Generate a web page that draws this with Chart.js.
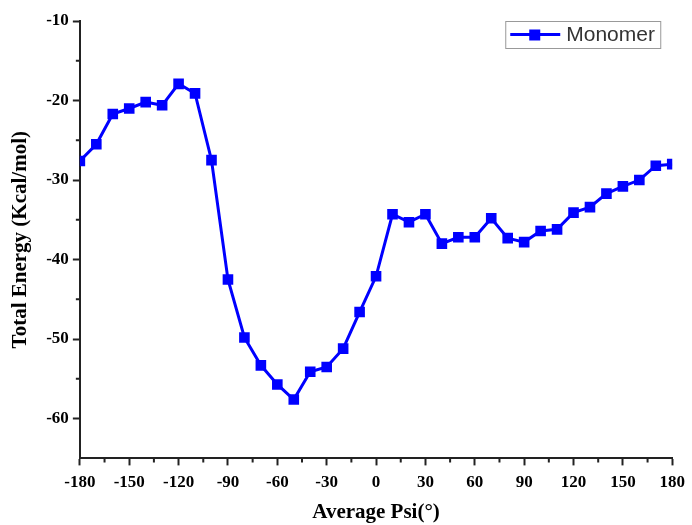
<!DOCTYPE html>
<html>
<head>
<meta charset="utf-8">
<script src="https://cdn.jsdelivr.net/npm/chart.js@4/dist/chart.umd.min.js"></script>
<style>
  html, body { margin: 0; padding: 0; background: #fff; }
  #wrap { width: 692px; height: 525px; }
</style>
</head>
<body>
<div id="wrap"><canvas id="chart" width="692" height="525"></canvas></div>
<script>
const psi = [-180, -170, -160, -150, -140, -130, -120, -110, -100, -90, -80, -70, -60, -50, -40, -30, -20, -10, 0,
  10, 20, 30, 40, 50, 60, 70, 80, 90, 100, 110, 120, 130, 140, 150, 160, 170, 180];
const energy = [-27.6, -25.5, -21.7, -21.0, -20.2, -20.6, -17.9, -19.1, -27.5, -42.5, -49.8, -53.3, -55.7, -57.6, -54.1, -53.5, -51.2, -46.6, -42.1,
  -34.3, -35.3, -34.3, -38.0, -37.2, -37.2, -34.8, -37.3, -37.8, -36.4, -36.2, -34.1, -33.4, -31.7, -30.8, -30.0, -28.2, -28.0];
const seriesName = 'Monomer';
const xTicks = [-180, -150, -120, -90, -60, -30, 0, 30, 60, 90, 120, 150, 180];
const yTicks = [-10, -20, -30, -40, -50, -60];

const blue = '#0000ff';
const axisColor = '#222';
const serif = '"Liberation Serif", "Times New Roman", serif';

// short minor ticks drawn between the labelled ones
const minorTicks = {
  id: 'minorTicks',
  afterDraw(chart) {
    const c = chart.ctx;
    const xs = chart.scales.x, ys = chart.scales.y;
    c.save();
    c.strokeStyle = axisColor;
    c.lineWidth = 2;
    c.beginPath();
    for (let v = xs.min + 15; v < xs.max; v += 30) {
      const px = xs.getPixelForValue(v);
      c.moveTo(px, xs.top);
      c.lineTo(px, xs.top + 4);
    }
    for (let v = -15; v > ys.min; v -= 10) {
      const py = ys.getPixelForValue(v);
      c.moveTo(ys.right, py);
      c.lineTo(ys.right - 4, py);
    }
    c.stroke();
    c.restore();
  }
};

// boxed legend sitting inside the plot, top right
const insideLegend = {
  id: 'insideLegend',
  afterDraw(chart) {
    const c = chart.ctx;
    const a = chart.chartArea;
    const w = 155, h = 27;
    const x = a.right - 12 - w, y = a.top;
    c.save();
    c.fillStyle = '#fff';
    c.fillRect(x, y, w, h);
    c.strokeStyle = '#999';
    c.lineWidth = 1;
    c.strokeRect(x + 0.5, y + 0.5, w, h);
    const my = y + h / 2;
    c.strokeStyle = blue;
    c.lineWidth = 3;
    c.beginPath();
    c.moveTo(x + 5, my);
    c.lineTo(x + 55, my);
    c.stroke();
    c.fillStyle = blue;
    c.fillRect(x + 24, my - 5, 11, 11);
    c.fillStyle = '#333';
    c.font = '21px "Liberation Sans", Arial, sans-serif';
    c.textBaseline = 'middle';
    c.fillText(chart.data.datasets[0].label, x + 61, my + 1);
    c.restore();
  }
};

const ctx = document.getElementById('chart').getContext('2d');

new Chart(ctx, {
  type: 'line',
  data: {
    datasets: [{
      label: seriesName,
      data: psi.map((p, i) => ({ x: p, y: energy[i] })),
      borderColor: blue,
      backgroundColor: blue,
      borderWidth: 3,
      pointStyle: 'rect',
      pointRadius: 7.5,
      pointBackgroundColor: blue,
      pointBorderColor: blue,
      pointBorderWidth: 0,
      tension: 0,
      clip: 0
    }]
  },
  options: {
    responsive: false,
    animation: false,
    layout: { padding: { top: 21, right: 9, left: 0, bottom: 0 } },
    plugins: {
      legend: { display: false },
      tooltip: { enabled: false }
    },
    scales: {
      x: {
        type: 'linear',
        min: -180,
        max: 180,
        afterBuildTicks: scale => { scale.ticks = xTicks.map(v => ({ value: v })); },
        grid: {
          drawOnChartArea: false,
          drawTicks: true,
          tickLength: 7,
          tickWidth: 2,
          tickColor: axisColor
        },
        border: { color: axisColor, width: 2 },
        ticks: {
          padding: 7,
          color: '#000',
          maxRotation: 0,
          font: { family: serif, size: 17, weight: 'bold' }
        },
        title: {
          display: true,
          text: 'Average Psi(°)',
          color: '#000',
          padding: { top: 0, bottom: 0 },
          font: { family: serif, size: 21, weight: 'bold' }
        }
      },
      y: {
        type: 'linear',
        min: -65,
        max: -10,
        afterBuildTicks: scale => { scale.ticks = yTicks.map(v => ({ value: v })); },
        grid: {
          drawOnChartArea: false,
          drawTicks: true,
          tickLength: 7,
          tickWidth: 2,
          tickColor: axisColor
        },
        border: { color: axisColor, width: 2 },
        ticks: {
          padding: 4,
          color: '#000',
          font: { family: serif, size: 17, weight: 'bold' }
        },
        title: {
          display: true,
          text: 'Total Energy (Kcal/mol)',
          color: '#000',
          padding: { top: 8, bottom: 9 },
          font: { family: serif, size: 21, weight: 'bold' }
        }
      }
    }
  },
  plugins: [minorTicks, insideLegend]
});
</script>
</body>
</html>
